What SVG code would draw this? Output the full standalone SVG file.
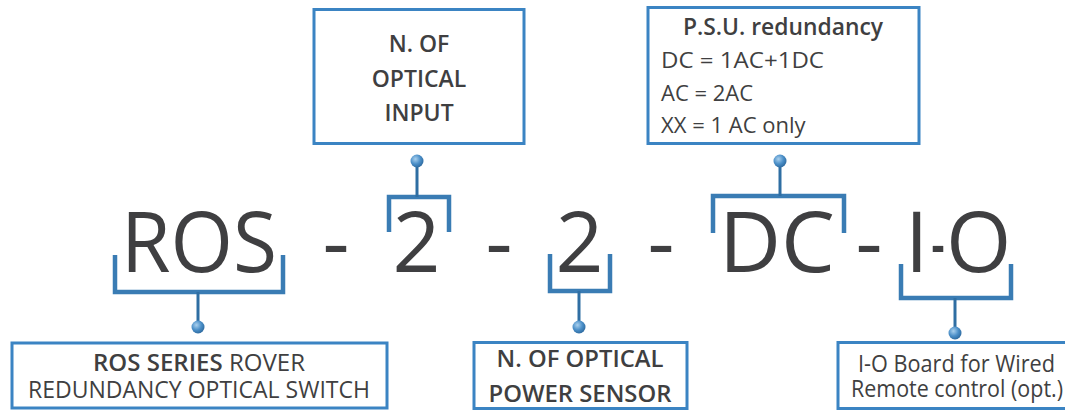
<svg xmlns="http://www.w3.org/2000/svg" width="1065" height="410" viewBox="0 0 1065 410">
<style>
.box{fill:#fff;stroke:#3b84c3;stroke-width:3}
.t{font-family:"Open Sans","Liberation Sans",sans-serif;fill:#3f3f41}
.big{font-size:84px;text-anchor:middle}
.lbl{font-size:22px}
.l23{font-size:23px}
.b{font-weight:600}
.c{text-anchor:middle}
.br{fill:none;stroke:#3a7cb4;stroke-width:4.5;stroke-linejoin:miter}
.st{fill:none;stroke:#2f6ea3;stroke-width:3}
.dot{fill:url(#dg)}
</style>
<defs>
<radialGradient id="dg" cx="0.38" cy="0.35" r="0.7">
<stop offset="0" stop-color="#a9d0ee"/>
<stop offset="0.55" stop-color="#4b8fc8"/>
<stop offset="1" stop-color="#2b679c"/>
</radialGradient>
</defs>
<rect width="1065" height="410" fill="#fff"/>

<g id="code">
<text class="t big" x="199" y="272" textLength="156" lengthAdjust="spacingAndGlyphs">ROS</text>
<text class="t big" x="336" y="272">-</text>
<text class="t big" x="416.5" y="272">2</text>
<text class="t big" x="499" y="272">-</text>
<text class="t big" x="579.5" y="272">2</text>
<text class="t big" x="661" y="272">-</text>
<text class="t big" x="777" y="272" textLength="116" lengthAdjust="spacingAndGlyphs">DC</text>
<text class="t big" x="869" y="272">-</text>
<text class="t" y="272" style="font-size:84px"><tspan x="905" y="272">I</tspan><tspan x="931" y="272" textLength="14" lengthAdjust="spacingAndGlyphs">-</tspan><tspan x="946" y="272">O</tspan></text>
</g>

<g id="connectors">
<path class="br" d="M115,255 V292 H283 V255"/>
<path class="st" d="M198,292 V327"/>
<circle class="dot" cx="198" cy="327" r="6.5"/>

<path class="br" d="M389,232 V197 H449 V232"/>
<path class="st" d="M417,197 V161"/>
<circle class="dot" cx="417" cy="161" r="6.5"/>

<path class="br" d="M550,254 V291 H610 V254"/>
<path class="st" d="M579,291 V327"/>
<circle class="dot" cx="579" cy="327" r="6.5"/>

<path class="br" d="M713,233 V196 H844 V233"/>
<path class="st" d="M780,196 V161"/>
<circle class="dot" cx="780" cy="161" r="6.5"/>

<path class="br" d="M901,264 V298 H1011 V264"/>
<path class="st" d="M955,298 V333"/>
<circle class="dot" cx="955" cy="333" r="6.5"/>
</g>

<g id="node-input">
<rect class="box" x="314" y="9.5" width="210" height="134"/>
<text class="t b c" x="419" y="52" style="font-size:23px">N. OF</text>
<text class="t b c" x="419" y="87" style="font-size:23px">OPTICAL</text>
<text class="t b c" x="419" y="121" style="font-size:23px">INPUT</text>
</g>

<g id="node-psu">
<rect class="box" x="648" y="7.5" width="271" height="136"/>
<text class="t l23 b c" x="783" y="35" textLength="200" lengthAdjust="spacingAndGlyphs">P.S.U. redundancy</text>
<text class="t lbl" x="661" y="68" textLength="163" lengthAdjust="spacingAndGlyphs">DC = 1AC+1DC</text>
<text class="t lbl" x="661" y="101">AC = 2AC</text>
<text class="t lbl" x="661" y="133">XX = 1 AC only</text>
</g>

<g id="node-series">
<rect class="box" x="12" y="343" width="375" height="65"/>
<text class="t l23 c" x="199" y="371" textLength="212" lengthAdjust="spacingAndGlyphs"><tspan class="b">ROS SERIES</tspan> ROVER</text>
<text class="t l23 c" x="199" y="398" textLength="342" lengthAdjust="spacingAndGlyphs">REDUNDANCY OPTICAL SWITCH</text>
</g>

<g id="node-sensor">
<rect class="box" x="474" y="342.5" width="213" height="66"/>
<text class="t l23 b c" x="580" y="367" textLength="167" lengthAdjust="spacingAndGlyphs">N. OF OPTICAL</text>
<text class="t l23 b c" x="580" y="402" textLength="183" lengthAdjust="spacingAndGlyphs">POWER SENSOR</text>
</g>

<g id="node-io">
<rect class="box" x="838" y="342.5" width="240" height="66"/>
<text class="t l23 c" x="956.5" y="372" textLength="197" lengthAdjust="spacingAndGlyphs">I-O Board for Wired</text>
<text class="t l23 c" x="957" y="397" textLength="212" lengthAdjust="spacingAndGlyphs">Remote control (opt.)</text>
</g>
</svg>
